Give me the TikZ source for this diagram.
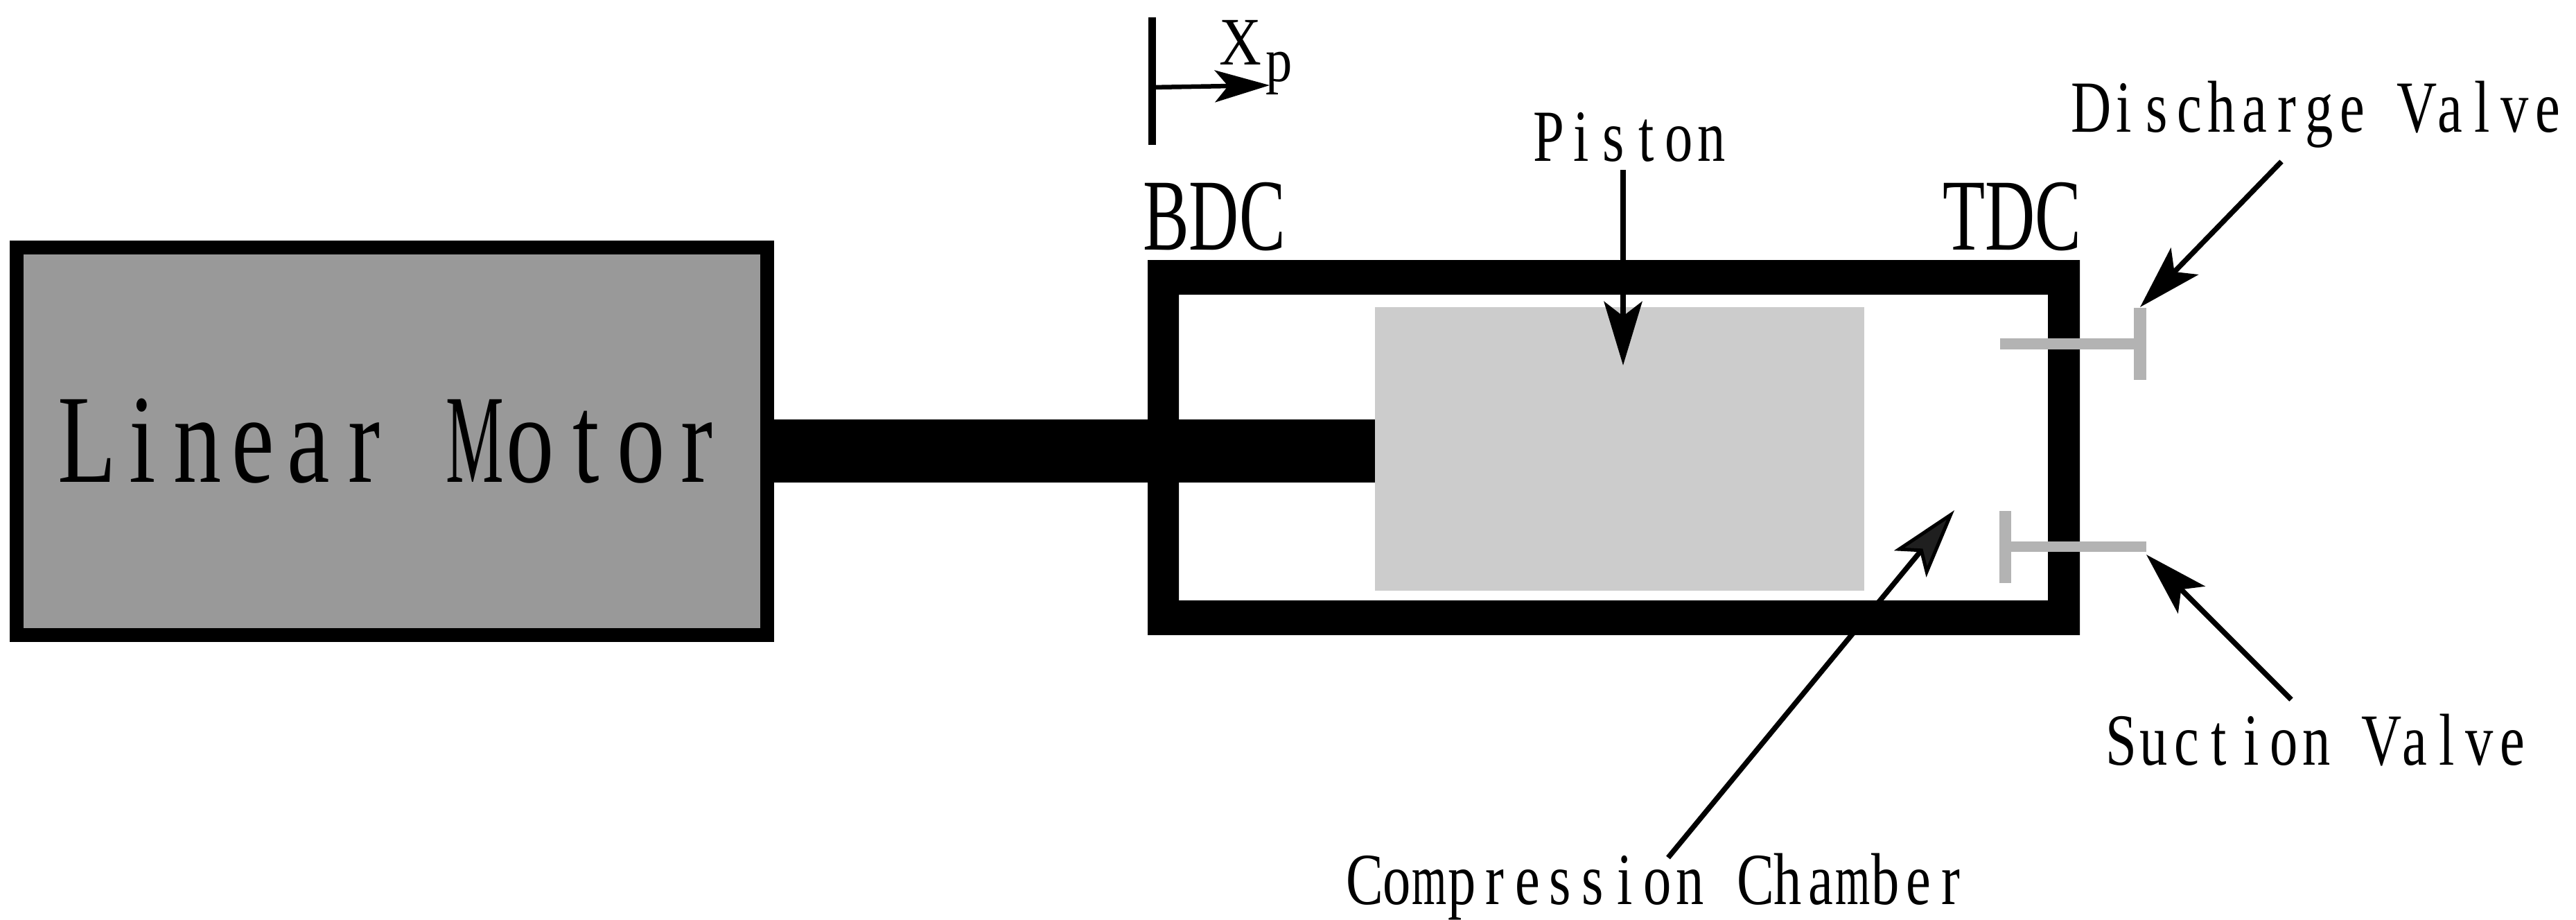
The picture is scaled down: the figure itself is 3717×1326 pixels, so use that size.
\documentclass[tikz,border=0pt]{standalone}
\usepackage{fontspec}
\usepackage{graphicx}
\usetikzlibrary{arrows.meta}
\newfontfamily\lblfont[FakeStretch=0.76]{Liberation Serif}
\newfontfamily\capfont[FakeStretch=0.68]{Liberation Serif}
\newfontfamily\subfont[FakeStretch=0.86]{Liberation Serif}
\newfontfamily\psubfont[FakeStretch=0.85]{Liberation Serif}
\newlength\pitchw
\newcommand\pitchchar[1]{\makebox[\pitchw][c]{\ifx#1M\scalebox{0.68}[1]{M}\else\ifx#1m\scalebox{0.8}[1]{m}\else#1\fi\fi}}
\def\pitched#1#2{\setlength\pitchw{#1}\pitchA#2\relax}
\def\pitchA#1{\ifx#1\relax\else\pitchchar{#1}\expandafter\pitchA\fi}
\definecolor{motorgray}{HTML}{999999}
\definecolor{pistongray}{HTML}{CCCCCC}
\definecolor{valvegray}{HTML}{B3B3B3}
\tikzset{
  lbl/.style={inner sep=0pt,outer sep=0pt,anchor=base,text=black,font={\lblfont\fontsize{106}{110}\selectfont}},
  caplbl/.style={inner sep=0pt,outer sep=0pt,anchor=base,text=black,font={\capfont\fontsize{147}{150}\selectfont}},
  motorbox/.style={draw=black,fill=motorgray,line width=20pt,inner sep=0pt,outer sep=0pt,minimum width=1083pt,minimum height=559.5pt,font={\lblfont\fontsize{182}{185}\selectfont}},
  pistonbox/.style={fill=pistongray,inner sep=0pt,outer sep=0pt,minimum width=706pt,minimum height=409pt},
  valve/.style={draw=valvegray,line cap=butt},
  leader/.style={draw=black,line width=7.5pt,-{Stealth[length=92pt,width=55pt,inset=21pt]}},
}
\begin{document}
\begin{tikzpicture}[x=1pt,y=-1pt]
\useasboundingbox (0,0) rectangle (3717,1326);
% named places
\coordinate (rodR) at (1984,650.5);
\coordinate (xpTail) at (1662,126);
\coordinate (xpTip) at (1832,123);
\coordinate (refTop) at (1662,25);
\coordinate (refBot) at (1662,209);
\coordinate (pistonTail) at (2342,245);
\coordinate (pistonTip) at (2342,527);
\coordinate (dTail) at (3292,233);
\coordinate (dTip) at (3088,443);
\coordinate (sTail) at (3306,1009);
\coordinate (sTip) at (3097,800);
\coordinate (cTail) at (2407,1237);
\coordinate (cTip) at (2820,736);
% rod, motor
\node[motorbox] (motor) at (565.5,636.5) {\pitched{80pt}{Linear~Motor}};
\draw[line width=91pt] (motor.east |- rodR) -- (rodR);
% cylinder
\fill[black,even odd rule] (1656,375) rectangle (3001,916) (1701,425) rectangle (2955,866);
% piston
\node[pistonbox] (piston) at (2337,647.5) {};
% valves
\draw[valve,line width=16pt] (2886,496) -- (3079,496);
\draw[valve,line width=18pt] (3088,444) -- (3088,548);
\draw[valve,line width=17pt] (2893.5,737) -- (2893.5,841);
\draw[valve,line width=15pt] (2902,788.5) -- (3097,788.5);
% reference mark
\draw[line width=11pt] (refTop) -- (refBot);
\draw[line width=6.5pt,-{Stealth[length=79pt,width=46pt,inset=19pt]}] (xpTail) -- (xpTip);
% labels
\node[caplbl] (bdc) at (1752,360) {BDC};
\node[caplbl] (tdc) at (2903,360) {TDC};
\node[inner sep=0pt,anchor=base,font={\subfont\fontsize{98}{100}\selectfont}] (xlabel) at (1790,93) {X};
\node[inner sep=0pt,anchor=base,font={\psubfont\fontsize{90}{94}\selectfont}] (plabel) at (1846,117) {p};
\node[lbl] (pistonlabel) at (2352,232) {\pitched{47pt}{Piston}};
\node[lbl] (discharge) at (3347,190) {\pitched{47pt}{Discharge~Valve}};
\node[lbl] (suction) at (3343,1103) {\pitched{47pt}{Suction~Valve}};
\node[lbl] (chamber) at (2392,1304) {\pitched{47pt}{Compression~Chamber}};
% leaders
\draw[leader] (pistonTail) -- (pistonTip);
\draw[leader] (dTail) -- (dTip);
\draw[leader] (sTail) -- (sTip);
\draw[line width=7.5pt,-{Stealth[length=100pt,width=60pt,inset=22pt,fill=black!88,line width=5pt]}] (cTail) -- (cTip);
\end{tikzpicture}
\end{document}
